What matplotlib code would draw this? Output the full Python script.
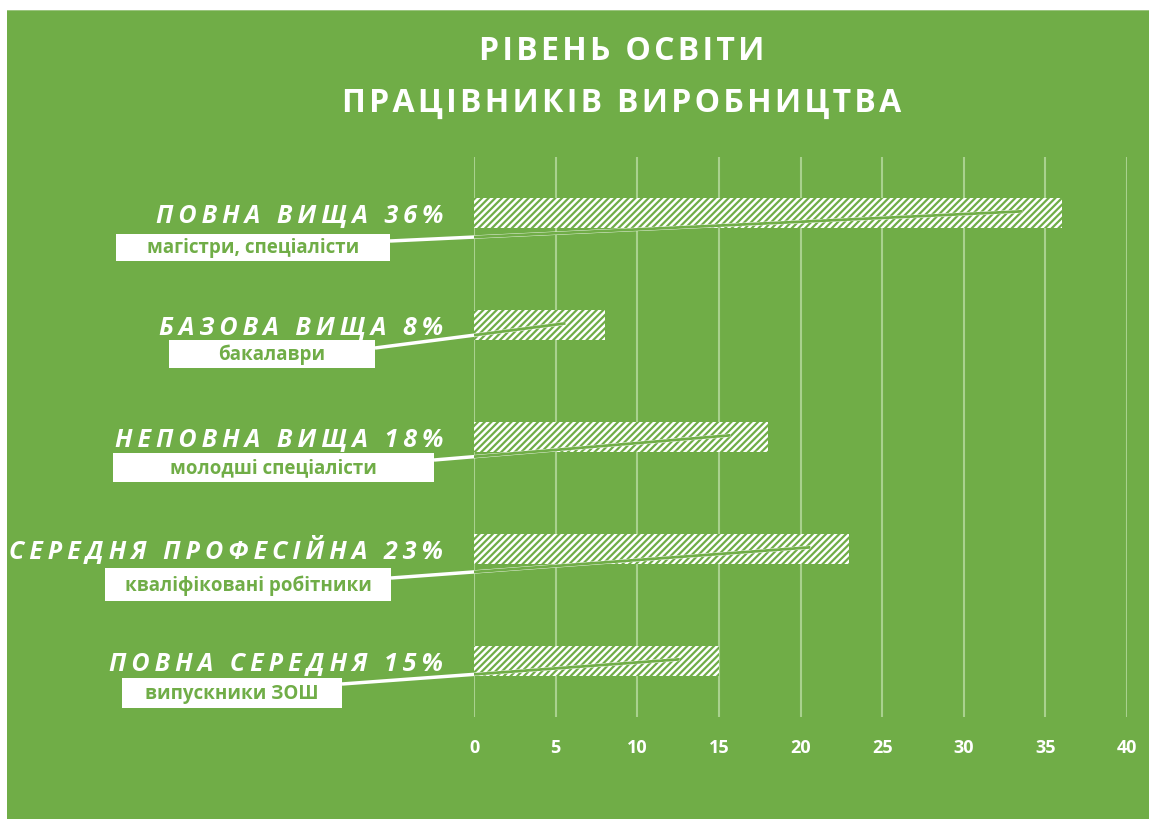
import matplotlib
matplotlib.use("Agg")
import matplotlib.pyplot as plt
from matplotlib.patches import Rectangle

plt.rcParams['font.family'] = ['Open Sans', 'DejaVu Sans']
plt.rcParams['hatch.linewidth'] = 1.6

# data
categories = ['ПОВНА ВИЩА 36%', 'БАЗОВА ВИЩА 8%', 'НЕПОВНА ВИЩА 18%',
              'СЕРЕДНЯ ПРОФЕСІЙНА 23%', 'ПОВНА СЕРЕДНЯ 15%']
values = [36, 8, 18, 23, 15]
sub_labels = ['магістри, спеціалісти', 'бакалаври', 'молодші спеціалісти',
              'кваліфіковані робітники', 'випускники ЗОШ']
xticks = [0, 5, 10, 15, 20, 25, 30, 35, 40]
title = 'РІВЕНЬ ОСВІТИ\nПРАЦІВНИКІВ ВИРОБНИЦТВА'

# callout layout (image pixels: left, top, width, height) and tip positions (data x)
boxes = [(116, 234, 274, 27), (169, 340, 206, 28), (113, 453, 321, 29),
         (105, 568, 286, 33), (122, 678, 220, 30)]
line_start_dy = [7, 8, 7, 10, 6]
tips = [33.6, 5.6, 15.7, 20.6, 12.6]

GREEN = '#70AD47'
GRID = '#A9D18E'
W, H = 1149, 819


def spaced(s, sep):
    return sep.join(s)


fig = plt.figure(figsize=(W / 100, H / 100), dpi=100, facecolor='white')
fig.patches.append(Rectangle((7 / W, 0), 1 - 7 / W, 1 - 10 / H, transform=fig.transFigure,
                             facecolor=GREEN, edgecolor='none', zorder=-10))
fig.patches.append(Rectangle((7 / W, 1 - 11 / H), 1 - 7 / W, 1.5 / H, transform=fig.transFigure,
                             facecolor='#9BC47F', edgecolor='none', zorder=-9))

ax = fig.add_axes([474 / W, (H - 717) / H, (1127 - 474) / W, (717 - 157) / H])
ax.set_facecolor('none')
y = list(range(len(values)))
ax.barh(y, values, height=0.27, color='white', edgecolor=GREEN, hatch='/////', linewidth=0, zorder=3)
ax.set_xlim(0, 40)
ax.set_ylim(4.5, -0.5)
ax.set_xticks(xticks)
ax.set_xticklabels([str(t) for t in xticks], color='white', fontsize=13, fontweight='bold')
ax.tick_params(axis='x', length=0, pad=16)
ax.set_yticks([])
for t in xticks:
    ax.axvline(t, color=GRID, lw=1.5, zorder=1)
for s in ax.spines.values():
    s.set_visible(False)

# category labels
for i, c in enumerate(categories):
    ax.text(-31 / 653, i + 0.08, spaced(c, '\u2009'), transform=ax.get_yaxis_transform(),
            ha='right', va='baseline', color='white', fontsize=18,
            fontweight='bold', fontstyle='italic')

fig.canvas.draw()
inv = ax.transData.inverted()
for i, (bx, by, bw, bh) in enumerate(boxes):
    fig.patches.append(Rectangle((bx / W, 1 - (by + bh) / H), bw / W, bh / H,
                                 transform=fig.transFigure, facecolor='white',
                                 edgecolor='none', zorder=5))
    fig.text((bx + bw / 2) / W, 1 - (by + bh / 2 + 1) / H, sub_labels[i], ha='center',
             va='center', color=GREEN, fontsize=13.5, fontweight='bold', zorder=6)
    sx, sy = inv.transform(fig.transFigure.transform(((bx + bw) / W, 1 - (by + line_start_dy[i]) / H)))
    tx, ty = tips[i], i - 0.015
    ax.plot([sx, tx], [sy, ty], color='white', lw=2.5, clip_on=False, zorder=4,
            solid_capstyle='butt')
    t = (0 - sx) / (tx - sx)
    yi = sy + t * (ty - sy)
    ax.plot([0, tx], [yi, ty], color=GREEN, lw=2, zorder=4, solid_capstyle='butt')

fig.text(622 / W, 1 - 52 / H, spaced('РІВЕНЬ ОСВІТИ', '\u200a'), ha='center', va='center',
         color='white', fontsize=23, fontweight='bold')
fig.text(622 / W, 1 - 103 / H, spaced('ПРАЦІВНИКІВ ВИРОБНИЦТВА', '\u200a'), ha='center',
         va='center', color='white', fontsize=23, fontweight='bold')

fig.savefig('out.png', dpi=100, facecolor='white')
